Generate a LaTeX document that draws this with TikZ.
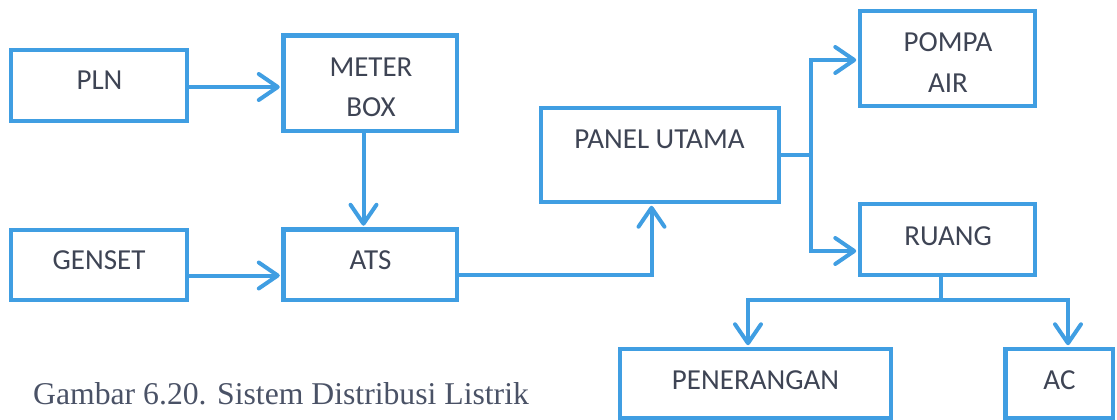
\documentclass[tikz,border=0pt]{standalone}
\usepackage{fontspec}
\setmainfont{Liberation Serif}
\newfontfamily\boxfont{Carlito}
\usetikzlibrary{arrows.meta}
\definecolor{lineblue}{RGB}{64,158,226}
\definecolor{labelgray}{RGB}{62,68,84}
\definecolor{captiongray}{RGB}{74,82,102}
\tikzset{
  x=1pt, y=-1pt,
  box/.style={draw=lineblue, line width=4.5pt, rectangle, inner sep=0pt},
  lbl/.style={anchor=base, inner sep=0pt, text=labelgray, font=\boxfont\fontsize{29}{34}\selectfont},
  wire/.style={draw=lineblue, line width=4pt, line join=miter},
  tip/.style={wire, -{Straight Barb[length=19pt, width=26pt, line width=4pt, round]}, shorten >=1.5pt},
}
\begin{document}
\begin{tikzpicture}
\useasboundingbox (0,0) rectangle (1117,420);

% boxes
\node[box, minimum width=176pt, minimum height=71pt] (pln) at (99,85.5) {};
\node[box, minimum width=173.5pt, minimum height=95.5pt] (meter) at (370.25,83.25) {};
\node[box, minimum width=176pt, minimum height=70pt] (genset) at (99,265) {};
\node[box, minimum width=173.5pt, minimum height=70.5pt] (ats) at (370.25,264.75) {};
\node[box, minimum width=238pt, minimum height=94pt] (panel) at (660,155) {};
\node[box, minimum width=175pt, minimum height=95pt] (pompa) at (947.5,58.5) {};
\node[box, minimum width=175pt, minimum height=71pt] (ruang) at (947.5,239.5) {};
\node[box, minimum width=271pt, minimum height=69pt] (pen) at (755.5,383.5) {};
\node[box, minimum width=107.5pt, minimum height=69pt] (ac) at (1059.25,383.5) {};

% box labels
\node[lbl] (pln-t) at (99.5,90) {PLN};
\node[lbl] (meter-t1) at (371,76.7) {METER};
\node[lbl] (meter-t2) at (371,116.7) {BOX};
\node[lbl] (genset-t) at (99,269.3) {GENSET};
\node[lbl] (ats-t) at (370.5,269.3) {ATS};
\node[lbl] (panel-t) at (659.5,148.3) {PANEL UTAMA};
\node[lbl] (pompa-t1) at (948,51.7) {POMPA};
\node[lbl] (pompa-t2) at (948,92.7) {AIR};
\node[lbl] (ruang-t) at (948,245) {RUANG};
\node[lbl] (pen-t) at (755.5,389) {PENERANGAN};
\node[lbl] (ac-t) at (1059.5,389) {AC};

% junction points of the branching wires
\coordinate (pj) at (810.5,155);
\coordinate (rj) at (940.5,299.5);

% connectors
\draw[tip] ([yshift=-1.5pt]pln.east) -- ([yshift=-1.5pt]pln.east -| meter.west);
\draw[tip] ([xshift=-6.75pt]meter.south) -- ([xshift=-6.75pt]meter.south |- ats.north);
\draw[tip] ([yshift=-10.5pt]genset.east) -- ([yshift=-10.5pt]genset.east -| ats.west);
\draw[tip] ([yshift=-10.25pt]ats.east) -| ([xshift=-8.5pt]panel.south);
\draw[wire] (panel.east) -- (pj);
\draw[tip] (pj) |- ([yshift=-1.5pt]pompa.west);
\draw[tip] (pj) |- ([yshift=-11.5pt]ruang.west);
\draw[wire] ([xshift=-7pt]ruang.south) -- (rj);
\draw[tip] (rj) -| ([xshift=-7.5pt]pen.north);
\draw[tip] (rj) -| ([xshift=8.75pt]ac.north);

% caption
\node[anchor=base west, inner sep=0pt, text=captiongray, font=\fontsize{31.7}{38}\selectfont] (caption) at (33,404) {Gambar 6.20. Sistem Distribusi Listrik};
\end{tikzpicture}
\end{document}
